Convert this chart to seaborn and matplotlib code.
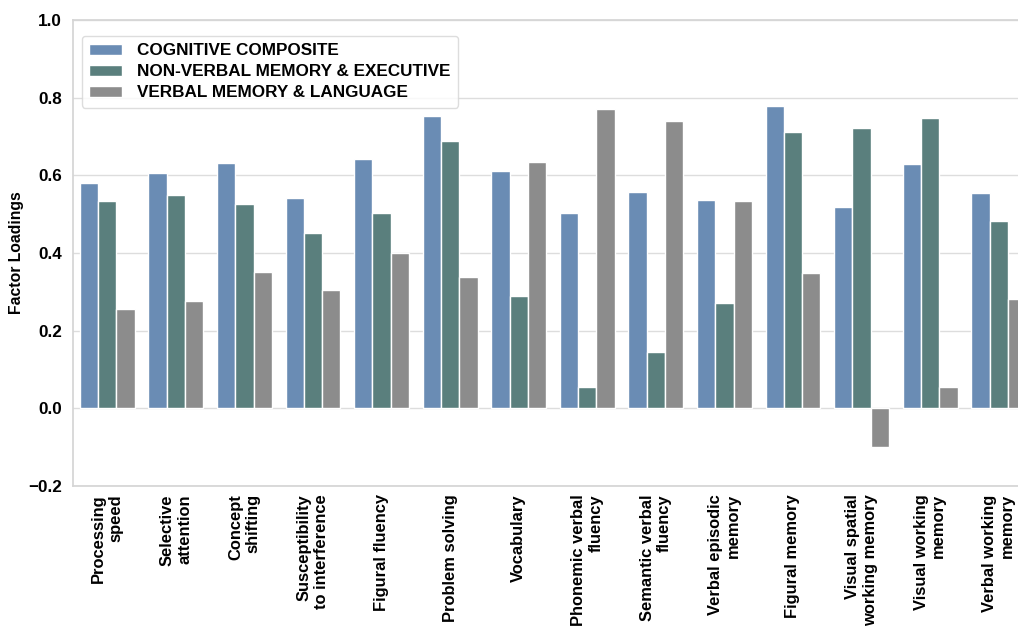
import matplotlib
matplotlib.use("Agg")
import matplotlib.pyplot as plt
import seaborn as sns
import pandas as pd

categories = [
    "Processing\nspeed",
    "Selective\nattention",
    "Concept\nshifting",
    "Susceptibility\nto interference",
    "Figural fluency",
    "Problem solving",
    "Vocabulary",
    "Phonemic verbal\nfluency",
    "Semantic verbal\nfluency",
    "Verbal episodic\nmemory",
    "Figural memory",
    "Visual spatial\nworking memory",
    "Visual working\nmemory",
    "Verbal working\nmemory",
]

cognitive_composite = [0.580, 0.606, 0.632, 0.542, 0.643, 0.754, 0.612,
                       0.503, 0.557, 0.537, 0.779, 0.519, 0.630, 0.555]
nonverbal_memory_exec = [0.535, 0.550, 0.526, 0.452, 0.503, 0.689, 0.289,
                         0.054, 0.145, 0.270, 0.712, 0.723, 0.748, 0.483]
verbal_memory_lang = [0.255, 0.276, 0.351, 0.305, 0.400, 0.338, 0.635,
                      0.772, 0.741, 0.534, 0.348, -0.100, 0.054, 0.282]

series_names = [
    "COGNITIVE COMPOSITE",
    "NON-VERBAL MEMORY & EXECUTIVE",
    "VERBAL MEMORY & LANGUAGE",
]
series_colors = ["#6a8cb4", "#5a7f7d", "#8c8c8c"]

y_ticks = [-0.2, 0.0, 0.2, 0.4, 0.6, 0.8, 1.0]

records = []
for name, values in zip(series_names,
                        [cognitive_composite, nonverbal_memory_exec, verbal_memory_lang]):
    for cat, v in zip(categories, values):
        records.append({"Measure": cat, "Factor": name, "Loading": v})
df = pd.DataFrame(records)

sns.set_theme(style="whitegrid")
plt.rcParams["font.family"] = ["Liberation Sans", "DejaVu Sans"]
plt.rcParams["font.weight"] = "bold"

fig = plt.figure(figsize=(10.18, 6.3), dpi=100)
ax = fig.add_axes([0.0717, 0.2286, 0.943, 0.7397])

sns.barplot(data=df, x="Measure", y="Loading", hue="Factor",
            hue_order=series_names, order=categories,
            palette=series_colors, saturation=1, ax=ax,
            edgecolor="white", linewidth=1)

ax.set_ylim(-0.2, 1.0)
ax.set_yticks(y_ticks)
ax.set_yticklabels([f"{t:.1f}".replace("-", "\u2212") for t in y_ticks],
                   fontsize=12.3, fontweight="bold", color="black")
ax.set_xlim(-0.5, len(categories) - 0.5)
ax.set_xticks(range(len(categories)))
ax.set_xticklabels(categories, rotation=90, fontsize=11.9, fontweight="bold",
                   color="black", multialignment="right", va="top")
ax.tick_params(axis="y", pad=2)
ax.tick_params(axis="x", pad=0)
ax.set_xlabel("")
ax.set_ylabel("Factor Loadings", fontsize=11.3, fontweight="bold",
              color="black", labelpad=3)
ax.grid(axis="x", visible=False)
ax.grid(axis="y", color="#dddddd", linewidth=1)
ax.set_axisbelow(True)
for s in ax.spines.values():
    s.set_color("#d5d5d5")

leg = ax.legend(loc="upper left", bbox_to_anchor=(0.0, 0.985),
                prop={"size": 12.3, "weight": "bold"},
                frameon=True, handlelength=1.9, handleheight=0.6,
                handletextpad=0.9, labelspacing=0.35, borderpad=0.45)
leg.get_frame().set_edgecolor("#d5d5d5")
for t in leg.get_texts():
    t.set_color("black")

fig.savefig("out.png", dpi=100)
